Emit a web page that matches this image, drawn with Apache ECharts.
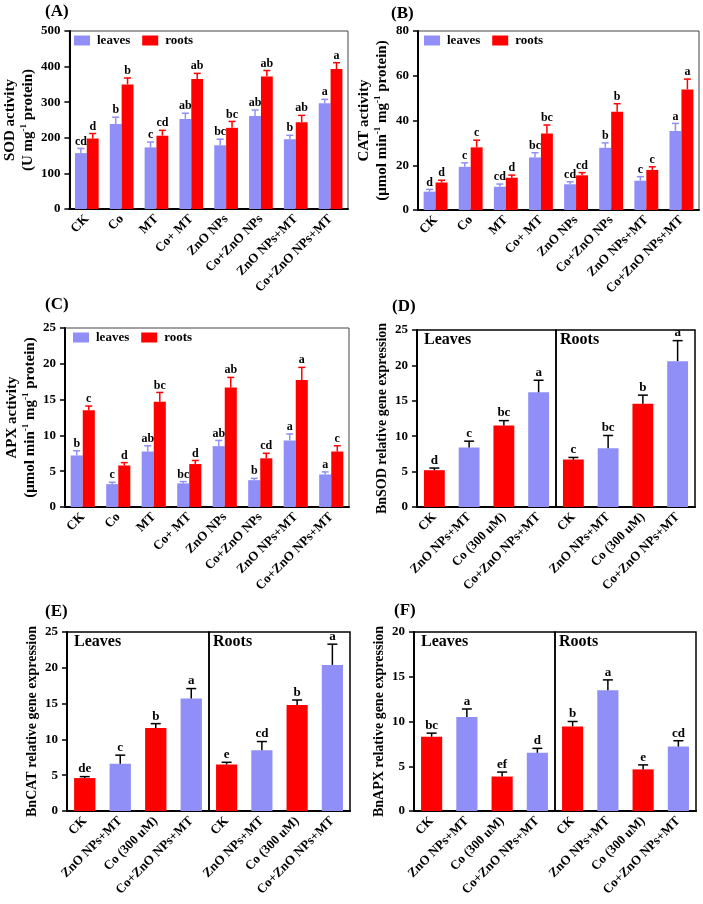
<!DOCTYPE html>
<html><head><meta charset="utf-8">
<script src="https://cdn.jsdelivr.net/npm/echarts@6/dist/echarts.min.js"></script>
<style>html,body{margin:0;padding:0;background:#fff}#c{width:703px;height:904px}</style>
</head><body><div id="c"></div>
<script>
// ---------- DATA ----------
const enzymeCats = ['CK','Co','MT','Co+ MT','ZnO NPs','Co+ZnO NPs','ZnO NPs+MT','Co+ZnO NPs+MT'];
const geneCats = ['CK','ZnO NPs+MT','Co (300 uM)','Co+ZnO NPs+MT'];
const seriesNames = ['leaves','roots'];

const sodLeaves = [157,239,173,253,179,261,196,297];
const sodLeavesErr = [13,19,15,16,17,17,11,11];
const sodLeavesSig = ['cd','b','c','ab','bc','ab','b','a'];
const sodRoots = [198,350,206,365,228,372,244,393];
const sodRootsErr = [14,18,15,16,18,17,19,18];
const sodRootsSig = ['d','b','cd','ab','bc','ab','ab','a'];

const catLeaves = [8.2,19.3,10.4,23.5,11.5,27.8,13.1,35.3];
const catLeavesErr = [1.0,1.8,1.2,2.1,1.1,2.2,1.8,3.4];
const catLeavesSig = ['d','c','cd','bc','cd','b','c','a'];
const catRoots = [12.3,28.0,14.4,34.2,15.5,43.9,17.9,53.9];
const catRootsErr = [1.0,3.2,1.2,3.8,1.2,3.6,1.4,4.6];
const catRootsSig = ['d','c','d','bc','cd','b','c','a'];

const apxLeaves = [7.2,3.2,7.75,3.3,8.5,3.75,9.3,4.55];
const apxLeavesErr = [0.65,0.25,0.8,0.25,0.8,0.25,0.9,0.35];
const apxLeavesSig = ['b','c','ab','bc','ab','b','a','a'];
const apxRoots = [13.5,5.8,14.7,6.0,16.7,6.8,17.75,7.75];
const apxRootsErr = [0.6,0.4,1.3,0.5,1.4,0.7,1.75,0.8];
const apxRootsSig = ['c','d','bc','d','ab','cd','a','c'];

const bnSodLeaves = [5.2,8.4,11.5,16.2];
const bnSodLeavesErr = [0.3,0.9,0.7,1.7];
const bnSodLeavesSig = ['d','c','bc','a'];
const bnSodRoots = [6.7,8.3,14.6,20.6];
const bnSodRootsErr = [0.3,1.8,1.2,2.9];
const bnSodRootsSig = ['c','bc','b','a'];

const bnCatLeaves = [4.6,6.6,11.6,15.7];
const bnCatLeavesErr = [0.2,1.2,0.6,1.4];
const bnCatLeavesSig = ['de','c','b','a'];
const bnCatRoots = [6.5,8.5,14.8,20.4];
const bnCatRootsErr = [0.3,1.2,0.7,2.9];
const bnCatRootsSig = ['e','cd','b','a'];

const bnApxLeaves = [8.3,10.5,3.85,6.5];
const bnApxLeavesErr = [0.4,0.9,0.5,0.5];
const bnApxLeavesSig = ['bc','a','ef','d'];
const bnApxRoots = [9.45,13.5,4.65,7.2];
const bnApxRootsErr = [0.55,1.15,0.5,0.65];
const bnApxRootsSig = ['b','a','e','cd'];

// ---------- STYLE ----------
const SERIF = '"Liberation Serif","Times New Roman",serif';
const BLUE = '#8f8ff7';
const RED = '#ff0000';
const geneColors = [RED, BLUE, RED, BLUE];
const GAP = 0.32;

const grids = [], xAxes = [], yAxes = [], series = [], titles = [];

function addGrid(left, top, right, bottom, border) {
  grids.push({left: left, top: top, width: right - left, height: bottom - top,
    show: !!border, borderColor: border ? border.color : '#000', borderWidth: border ? border.width : 0});
  return grids.length - 1;
}
function xAxisFor(gi, cats) {
  xAxes.push({type:'category', gridIndex: gi, data: cats,
    axisLine:{lineStyle:{color:'#000', width:2}},
    axisTick:{alignWithLabel:true, length:5, lineStyle:{color:'#000', width:1.5}},
    axisLabel:{rotate:45, margin:8, fontFamily:SERIF, fontWeight:'bold', fontSize:13, color:'#000', interval:0}});
  return xAxes.length - 1;
}
function yAxisFor(gi, max, interval, name, nameGap, show, nameSize) {
  yAxes.push({type:'value', gridIndex: gi, min:0, max:max, interval:interval, show: show,
    name: name, nameLocation:'middle', nameGap: nameGap, nameRotate: 90,
    nameTextStyle:{fontFamily:SERIF, fontWeight:'bold', fontSize: nameSize, color:'#000', lineHeight:18,
      rich:{s:{fontFamily:SERIF, fontWeight:'bold', fontSize:9, color:'#000', verticalAlign:'top', lineHeight:10, padding:[0,0,6,0]}}},
    axisLine:{show:true, lineStyle:{color:'#000', width:2}},
    axisTick:{show:true, length:5, lineStyle:{color:'#000', width:1.5}},
    splitLine:{show:false},
    axisLabel:{margin:9, fontFamily:SERIF, fontWeight:'bold', fontSize:13, color:'#000'}});
  return yAxes.length - 1;
}
function errSeries(xi, yi, vals, errs, sigs, side, color, capW, barFrac, fontSize) {
  series.push({type:'custom', xAxisIndex: xi, yAxisIndex: yi, z: 10, silent: true,
    data: vals.map((v, i) => [i, v, errs[i]]),
    renderItem: function(params, api) {
      const i = api.value(0), v = api.value(1), e = api.value(2);
      const base = api.coord([i, v]);
      const top = api.coord([i, v + e]);
      const band = api.size([1, 0])[0];
      const bw = band * barFrac;
      const cx = base[0] + side * bw / 2;
      return {type:'group', children:[
        {type:'line', shape:{x1:cx, y1:base[1], x2:cx, y2:top[1]}, style:{stroke:color, lineWidth:1.5}},
        {type:'line', shape:{x1:cx - capW/2, y1:top[1], x2:cx + capW/2, y2:top[1]}, style:{stroke:color, lineWidth:1.5}},
        {type:'text', x: cx, y: top[1] - 1, style:{text: sigs[params.dataIndex], fill:'#000',
          font: 'bold ' + fontSize + 'px ' + SERIF, textAlign:'center', textVerticalAlign:'bottom'}}
      ]};
    }});
}
function enzymePanel(box, max, interval, name, nameGap, leaves, lErr, lSig, roots, rErr, rSig, legendPos, label, labelPos) {
  const gi = addGrid(box[0], box[1], box[2], box[3], {color:'#444', width:1});
  const xi = xAxisFor(gi, enzymeCats);
  const yi = yAxisFor(gi, max, interval, name, nameGap, true, 15);
  const frac = (1 - GAP) / 2;
  series.push({type:'bar', name: seriesNames[0], xAxisIndex: xi, yAxisIndex: yi, data: leaves,
    itemStyle:{color: BLUE}, barGap:'0%', barCategoryGap: (GAP*100) + '%'});
  series.push({type:'bar', name: seriesNames[1], xAxisIndex: xi, yAxisIndex: yi, data: roots,
    itemStyle:{color: RED}, barGap:'0%', barCategoryGap: (GAP*100) + '%'});
  errSeries(xi, yi, leaves, lErr, lSig, -1, BLUE, 7, frac, 12);
  errSeries(xi, yi, roots, rErr, rSig, 1, RED, 7, frac, 12);
  titles.push({text: label, left: labelPos[0], top: labelPos[1], padding:0,
    textStyle:{fontFamily:SERIF, fontWeight:'bold', fontSize:17, color:'#000'}});
}
function genePanel(box, divider, max, interval, name, leaves, lErr, lSig, roots, rErr, rSig, label, labelPos) {
  const g1 = addGrid(box[0], box[1], divider, box[3], {color:'#000', width:1.5});
  const g2 = addGrid(divider, box[1], box[2], box[3], {color:'#000', width:1.5});
  const x1 = xAxisFor(g1, geneCats), x2 = xAxisFor(g2, geneCats);
  const y1 = yAxisFor(g1, max, interval, name, 23, true, 14);
  const y2 = yAxisFor(g2, max, interval, '', 0, false, 14);
  [[x1, y1, leaves, lErr, lSig], [x2, y2, roots, rErr, rSig]].forEach(function(p) {
    series.push({type:'bar', xAxisIndex: p[0], yAxisIndex: p[1], barCategoryGap:'40%',
      data: p[2].map((v, i) => ({value: v, itemStyle:{color: geneColors[i]}}))});
    errSeries(p[0], p[1], p[2], p[3], p[4], 0, '#000', 10, 0.6, 13);
  });
  titles.push({text: label, left: labelPos[0], top: labelPos[1], padding:0,
    textStyle:{fontFamily:SERIF, fontWeight:'bold', fontSize:17, color:'#000'}});
  titles.push({text: 'Leaves', left: box[0] + 7, top: box[1] + 2, padding:0,
    textStyle:{fontFamily:SERIF, fontWeight:'bold', fontSize:16, color:'#000'}});
  titles.push({text: 'Roots', left: divider + 4, top: box[1] + 2, padding:0,
    textStyle:{fontFamily:SERIF, fontWeight:'bold', fontSize:16, color:'#000'}});
}

enzymePanel([68,31,348,209], 500, 100, 'SOD activity\n(U mg{s|-1} protein)', 27,
  sodLeaves, sodLeavesErr, sodLeavesSig, sodRoots, sodRootsErr, sodRootsSig, [74,34], '(A)', [45,3]);
enzymePanel([418,31,699,210], 80, 20, 'CAT activity\n(μmol min{s|-1} mg{s|-1} protein)', 27,
  catLeaves, catLeavesErr, catLeavesSig, catRoots, catRootsErr, catRootsSig, [424,34], '(B)', [391,5]);
enzymePanel([65,328,349,507], 25, 5, 'APX activity\n(μmol min{s|-1} mg{s|-1} protein)', 25,
  apxLeaves, apxLeavesErr, apxLeavesSig, apxRoots, apxRootsErr, apxRootsSig, [74,331], '(C)', [45,296]);
genePanel([417,330,695,507], 556, 25, 5, 'BnSOD relative gene expression',
  bnSodLeaves, bnSodLeavesErr, bnSodLeavesSig, bnSodRoots, bnSodRootsErr, bnSodRootsSig, '(D)', [392,298]);
genePanel([67,632,350,811], 209, 25, 5, 'BnCAT relative gene expression',
  bnCatLeaves, bnCatLeavesErr, bnCatLeavesSig, bnCatRoots, bnCatRootsErr, bnCatRootsSig, '(E)', [45,603]);
genePanel([414,632,696,811], 555, 20, 5, 'BnAPX relative gene expression',
  bnApxLeaves, bnApxLeavesErr, bnApxLeavesSig, bnApxRoots, bnApxRootsErr, bnApxRootsSig, '(F)', [394,602]);

const legendStyle = function(left, top) {
  return {data: seriesNames, left: left, top: top, orient:'horizontal', itemWidth:16, itemHeight:10, itemGap:12,
    padding:0, icon:'rect', textStyle:{fontFamily:SERIF, fontWeight:'bold', fontSize:13, color:'#000', padding:[0,0,0,2]}};
};

const chart = echarts.init(document.getElementById('c'), null, {renderer:'canvas'});
chart.setOption({
  animation:false,
  backgroundColor:'#fff',
  title: titles,
  legend: [legendStyle(74,34), legendStyle(424,34), legendStyle(73,331)],
  grid: grids, xAxis: xAxes, yAxis: yAxes, series: series
});
</script></body></html>
